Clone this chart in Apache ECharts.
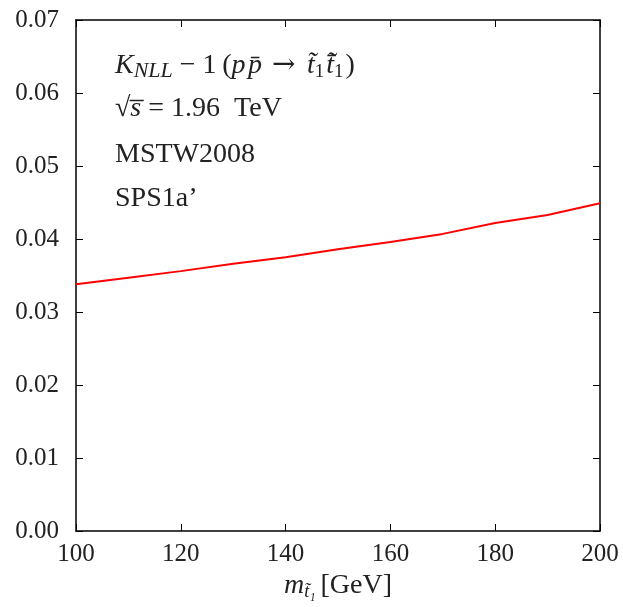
<!DOCTYPE html>
<html><head><meta charset="utf-8">
<script src="https://cdn.jsdelivr.net/npm/echarts@6/dist/echarts.min.js"></script>
<style>html,body{margin:0;padding:0;background:#fff}#c{width:623px;height:607px}</style>
</head><body><div id="c"></div>
<script>
const masses = [100, 110, 120, 130, 140, 150, 160, 170, 180, 190, 200];
const kMinus1 = [0.0338, 0.0347, 0.0356, 0.0366, 0.0375, 0.0386, 0.0396, 0.0407, 0.0422, 0.0433, 0.0449];
const xTicks = [100, 120, 140, 160, 180, 200];
const yTicks = [0.00, 0.01, 0.02, 0.03, 0.04, 0.05, 0.06, 0.07];

const FONT = 'Liberation Serif';
const FS = 25;   // tick labels
const TS = 28;   // annotation text
const C = '#222';
const chart = echarts.init(document.getElementById('c'));
const tick = {show: true, inside: true, length: 7, lineStyle: {color: '#000', width: 1}};
const line = {show: true, onZero: false, lineStyle: {color: '#000', width: 1.5}};
const richMath = {
  i: {fontFamily: FONT, fontStyle: 'italic', fontSize: TS, fill: C, color: C},
  n: {fontFamily: FONT, fontSize: TS, fill: C, color: C},
  s: {fontFamily: FONT, fontStyle: 'italic', fontSize: 22, fill: C, color: C, verticalAlign: 'bottom', padding: [10, 7, 0, 0]},
  d: {fontFamily: FONT, fontSize: 19, fill: C, color: C, verticalAlign: 'bottom', padding: [10, 2, 0, 0]},
  a: {fontFamily: 'DejaVu Serif', fontSize: TS, fill: C, color: C, padding: [0, 6, 0, 10]},
  m: {fontFamily: FONT, fontSize: TS, fill: C, color: C, padding: [0, 7, 0, 0]}
};
chart.setOption({
  animation: false,
  backgroundColor: '#fff',
  grid: {left: 76, right: 23, top: 20, bottom: 76, containLabel: false},
  xAxis: [
    {type: 'value', min: 100, max: 200, interval: 20, position: 'bottom',
     axisLine: line, axisTick: tick, splitLine: {show: false},
     axisLabel: {color: C, fontFamily: FONT, fontSize: FS, margin: 11, formatter: v => xTicks.includes(v) ? String(v) : ''},
     name: '{i|m}{t|t\u0303\u2081}{n|[GeV]}', nameLocation: 'middle', nameGap: 40,
     nameTextStyle: {rich: {i: {fontFamily: FONT, fontStyle: 'italic', fontSize: TS, color: C},
       t: {fontFamily: FONT, fontStyle: 'italic', fontSize: 18, color: C, verticalAlign: 'bottom', padding: [12, 5, 0, 0]},
       n: {fontFamily: FONT, fontSize: TS, color: C}}}},
    {type: 'value', min: 100, max: 200, interval: 20, position: 'top',
     axisLine: line, axisTick: tick, axisLabel: {show: false}, splitLine: {show: false}}
  ],
  yAxis: [
    {type: 'value', min: 0, max: 0.07, interval: 0.01, position: 'left',
     axisLine: line, axisTick: tick, splitLine: {show: false},
     axisLabel: {color: C, fontFamily: FONT, fontSize: FS, margin: 17, formatter: v => v.toFixed(2)}},
    {type: 'value', min: 0, max: 0.07, interval: 0.01, position: 'right',
     axisLine: line, axisTick: tick, axisLabel: {show: false}, splitLine: {show: false}}
  ],
  series: [{type: 'line', data: masses.map((m, i) => [m, kMinus1[i]]), showSymbol: false,
    lineStyle: {color: '#ff0000', width: 2}, xAxisIndex: 0, yAxisIndex: 0}],
  graphic: [
    {type: 'text', left: 115, top: 52, style: {
      text: '{i|K}{s|NLL}{m|\u2212}{n|1\u2009(}{i|p\u200Ap\u0304}{a|\u2192}{i|\u2009t\u0303}{d|1}{i|t\u0303\u0304}{d|1}{n|)}',
      rich: richMath}},
    {type: 'text', left: 115, top: 95, style: {
      text: '{n|\u221A}{i|s\u0305}{n| = 1.96\u2002TeV}',
      rich: richMath}},
    {type: 'text', left: 115, top: 141, style: {text: 'MSTW2008', fontFamily: FONT, fontSize: TS, fill: C}},
    {type: 'text', left: 115, top: 185, style: {text: 'SPS1a\u2019', fontFamily: FONT, fontSize: TS, fill: C}}
  ]
});
</script></body></html>
